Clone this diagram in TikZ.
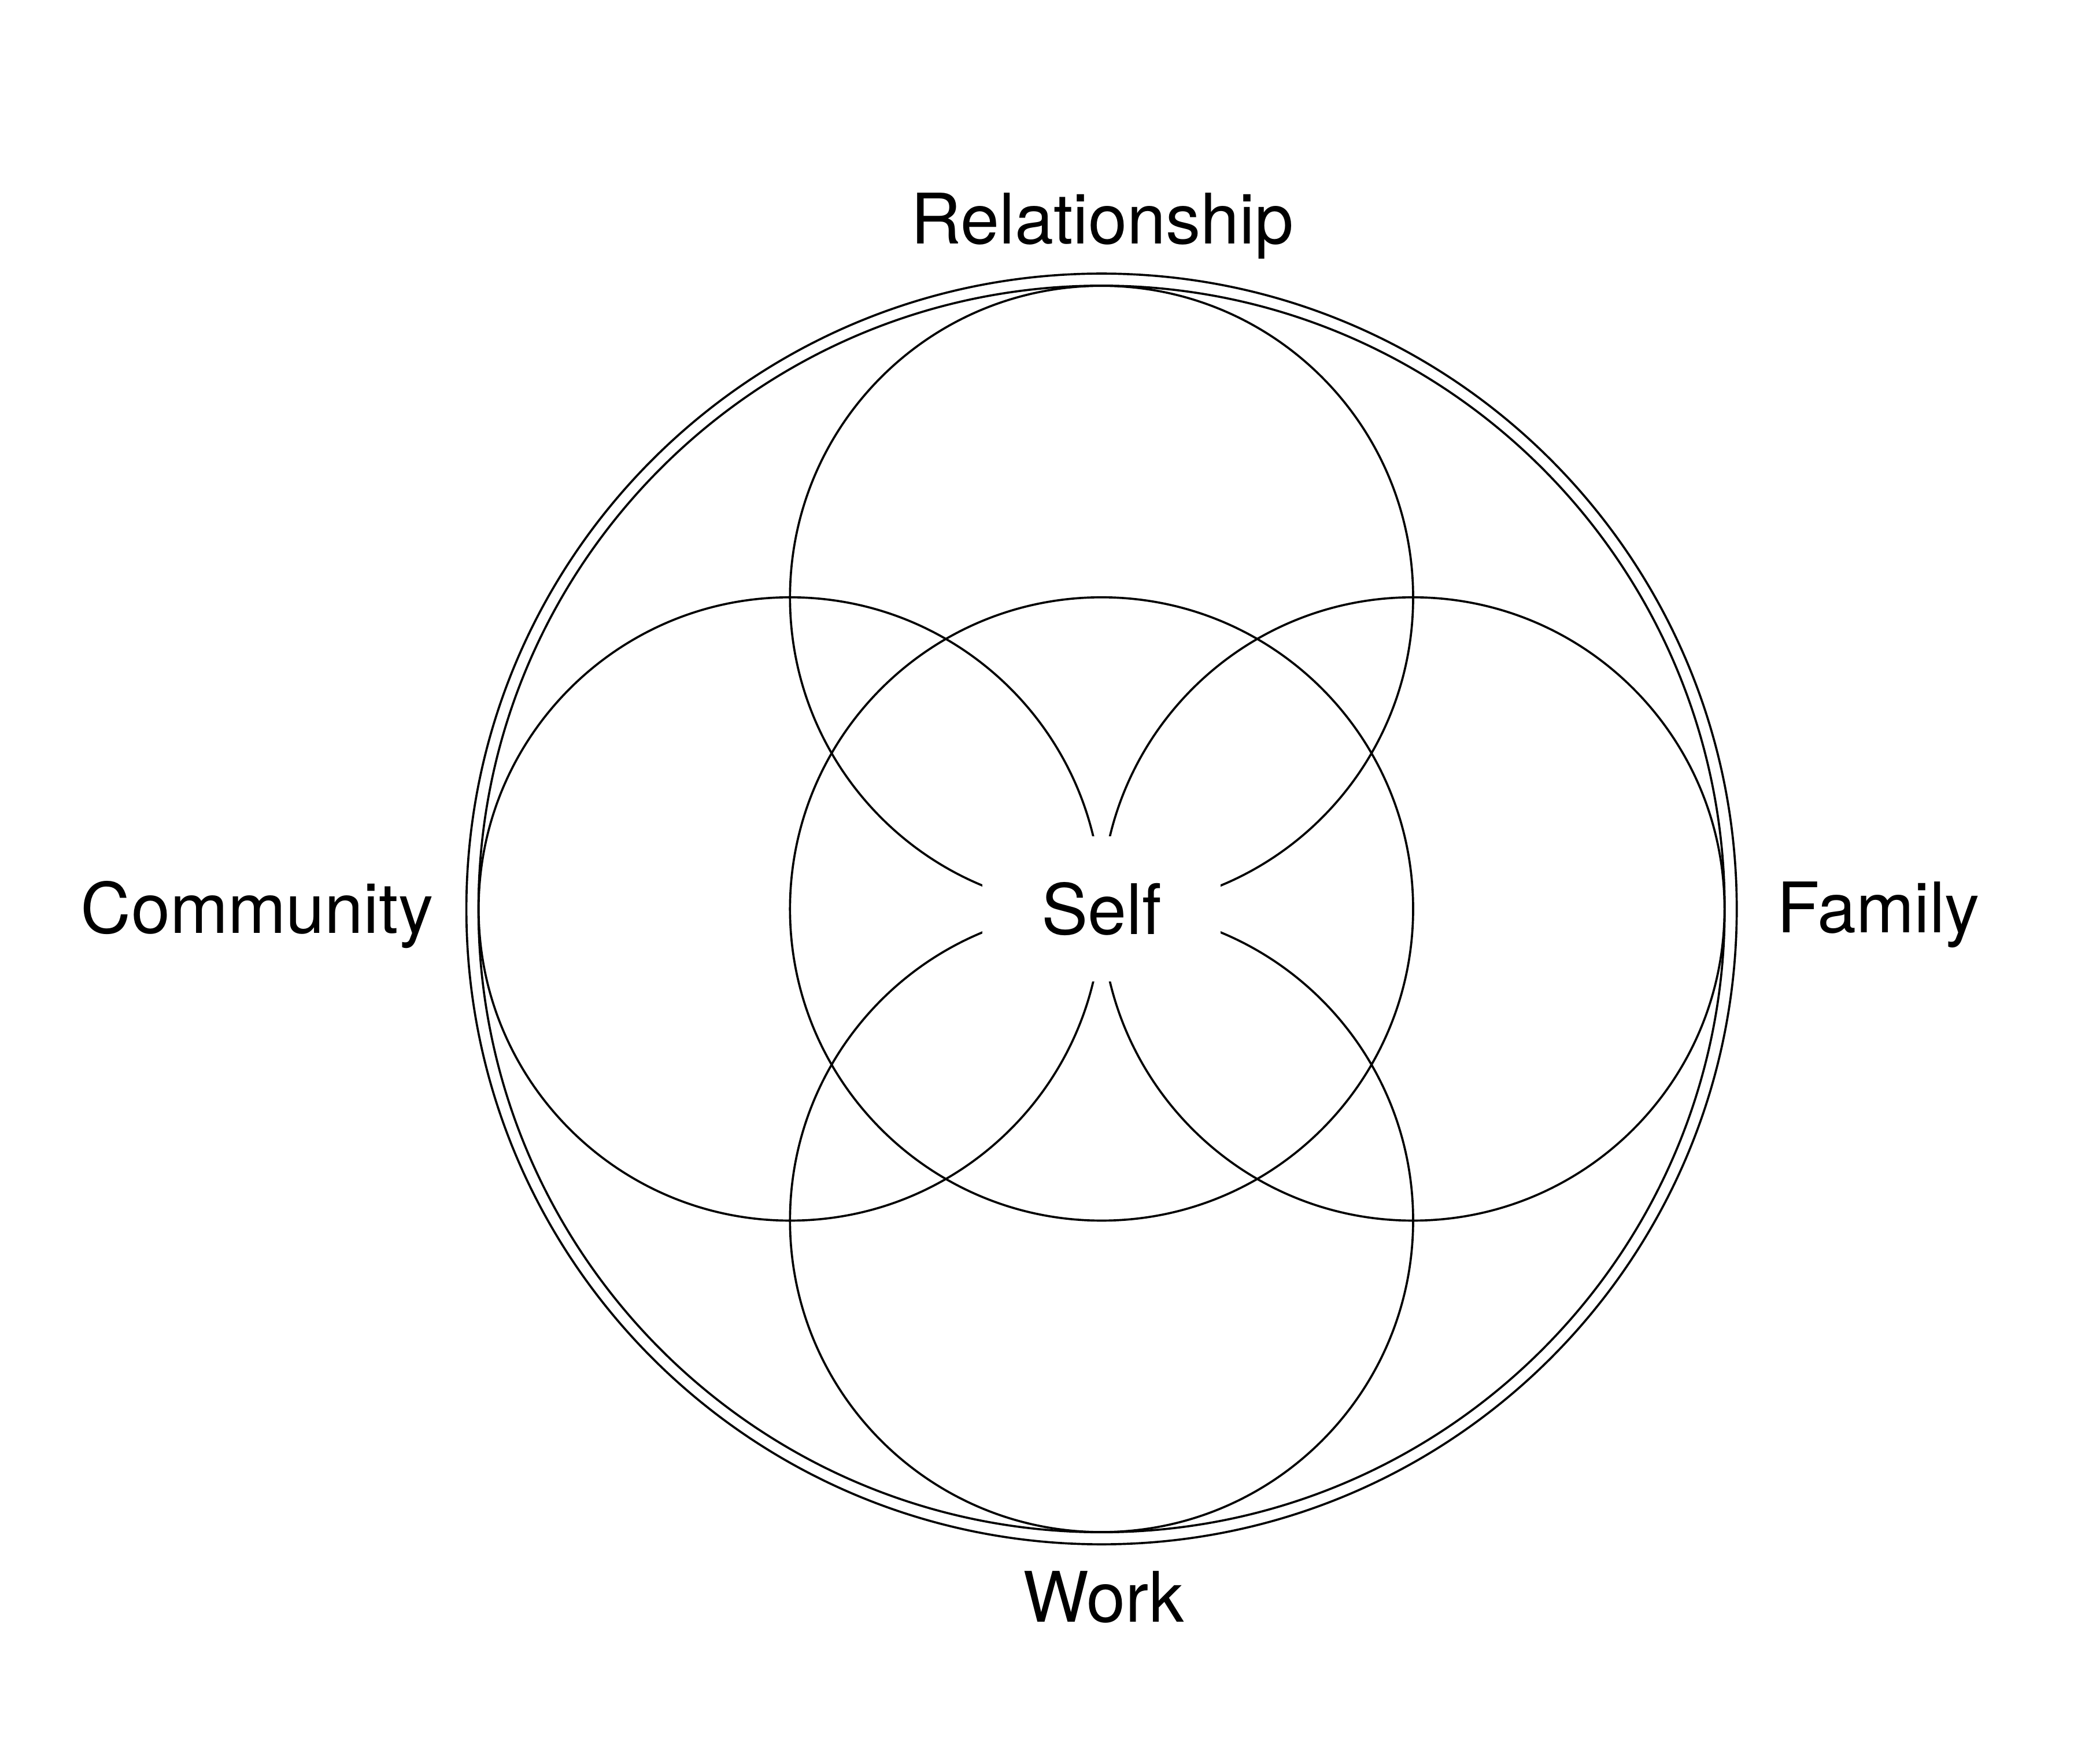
\documentclass[tikz,border=0pt]{standalone}
\usepackage{fontspec}
\setmainfont{TeX Gyre Heros}
\begin{document}
\begin{tikzpicture}[x=0.01cm,y=-0.01cm,
  ring/.style={draw=black, line width=0.45pt, circle, inner sep=0pt, minimum size=#1},
  lbl/.style={font=\fontsize{14.8}{17}\selectfont, inner sep=0pt, anchor=base}]
\useasboundingbox (0,0) rectangle (1568,1300);
% outer double ring
\node[ring=9.48cm] (outer) at (822.5,678.5) {};
\node[ring=9.30cm] (inner) at (822.5,678.5) {};
% five circles
\node[ring=4.65cm] (cself) at (822.5,678.5) {};
\node[ring=4.65cm] (crel)  at (822.5,446) {};
\node[ring=4.65cm] (ccom)  at (590,678.5) {};
\node[ring=4.65cm] (cfam)  at (1055,678.5) {};
\node[ring=4.65cm] (cwork) at (822.5,911) {};
% centre label with white background
\node[fill=white, minimum width=1.78cm, minimum height=1.08cm, inner sep=0pt,
      font=\fontsize{14.8}{17}\selectfont] (self) at (822.5,678.5) {Self};
% outer labels
\node[lbl] (rel)  at (823,181.8)  {Relationship};
\node[lbl] (com)  at (192,696.4)  {Community};
\node[lbl] (fam)  at (1402.5,696.2) {Family};
\node[lbl] (work) at (824,1210.6) {Work};
\end{tikzpicture}
\end{document}
